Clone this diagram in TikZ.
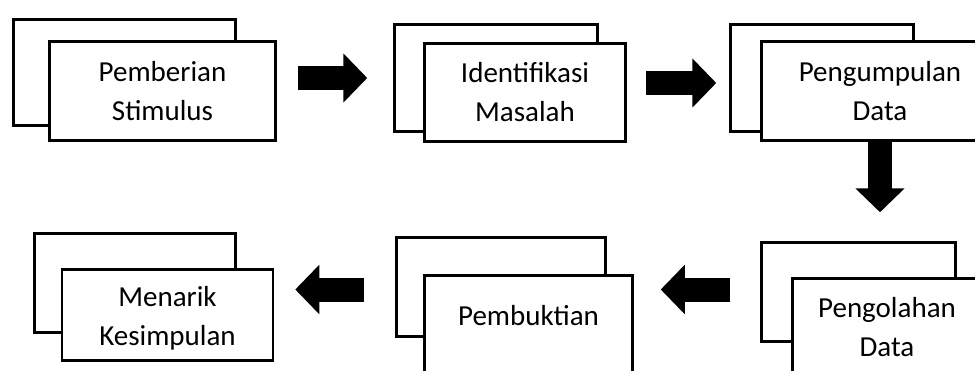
\documentclass[tikz,border=0pt]{standalone}
\usepackage{fontspec}
\setmainfont{Carlito}
\usetikzlibrary{arrows.meta}
\begin{document}
\begin{tikzpicture}[x=1pt, y=-1pt, font=\fontsize{29}{39}\selectfont, line join=miter,
    back/.style={draw, line width=2.5pt, fill=white, inner sep=0pt},
    front/.style={draw, line width=2.5pt, fill=white, inner sep=0pt, align=center},
    txt/.style={align=center, inner sep=0pt},
    blockarrow/.style={line width=24pt, -{Triangle[length=24pt,width=48pt]}}]
    \useasboundingbox (0,0) rectangle (975,370);
    \clip (0,0) rectangle (975,370);
    % top row
    \node[back, minimum width=222pt, minimum height=106pt] (b1) at (124.5,72.5) {};
    \node[front, minimum width=226pt, minimum height=99pt] (f1) at (162.5,91) {Pemberian\\Stimulus};
    \node[back, minimum width=203pt, minimum height=107pt] (b2) at (496,78) {};
    \node[front, minimum width=201pt, minimum height=98pt] (f2) at (525,92.5) {Identifikasi\\Masalah};
    \node[back, minimum width=183pt, minimum height=107pt] (b3) at (822,78) {};
    \node[front, minimum width=237pt, minimum height=99pt] (f3) at (880,91) {Pengumpulan\\Data};
    % bottom row
    \node[back, minimum width=194pt, minimum height=99pt] (b4) at (858.5,292) {};
    \node[front, minimum width=189pt, minimum height=98pt] (f4) at (887,327.5) {Pengolahan\\Data};
    \node[back, minimum width=209pt, minimum height=99pt] (b5) at (501,287) {};
    \node[front, minimum width=208pt, minimum height=113pt] (f5) at (528.5,332) {};
    \node[txt] (t5) at (528.5,316) {Pembuktian};
    \node[back, minimum width=201pt, minimum height=99pt] (b6) at (135,283) {};
    \node[front, minimum width=211pt, minimum height=91pt] (f6) at (167.5,315) {};
    \node[txt] (t6) at (167.5,318) {Menarik\\Kesimpulan};
    % block arrows
    \draw[blockarrow, shorten <=21pt, shorten >=26pt] ([yshift=13pt]f1.east) -- (b2.west);
    \draw[blockarrow, shorten <=19pt, shorten >=13pt] ([yshift=9.5pt]f2.east) -- ([yshift=-5pt]b3.west);
    \draw[blockarrow, shorten >=29pt] (f3.south) -- (f3.south |- b4.north);
    \draw[blockarrow, shorten <=30pt, shorten >=27pt] ([yshift=2.5pt]b4.west) -- ([yshift=42.5pt]f5.east);
    \draw[blockarrow, shorten <=31pt, shorten >=21pt] ([yshift=-2.5pt]b5.west) -- ([yshift=25.5pt]f6.east);
\end{tikzpicture}
\end{document}
